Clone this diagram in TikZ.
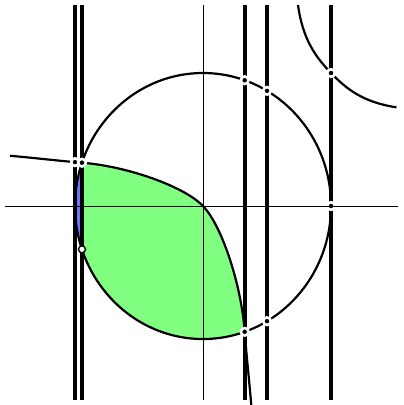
\documentclass[tikz,border=0pt]{standalone}
\usetikzlibrary{calc}
\tikzset{
  axisline/.style={line width=0.8pt},
  curveline/.style={line width=2.2pt},
  wall/.style={line width=3.8pt},
  crossdot/.style={circle,fill=black,draw=white,line width=2.6pt,minimum size=7.6pt,inner sep=0pt},
  opendot/.style={circle,fill=white,draw=black,line width=1.4pt,minimum size=7pt,inner sep=0pt},
  plaindot/.style={circle,fill=black,minimum size=4.6pt,inner sep=0pt},
}
\begin{document}
\begin{tikzpicture}[x=128pt,y=133pt]
  \useasboundingbox (-1.586,-1.496) rectangle (1.5625,1.549);
  % key points
  \coordinate (o) at (0,0);
  \coordinate (p1) at (-0.9455,0.3256);
  \coordinate (p2) at (0.3256,-0.9455);
  \coordinate (q1) at (-0.9455,-0.3256);

  % regions
  \fill[green!50] (p1) .. controls (-0.6,0.30) and (-0.15,0.15) .. (o)
    .. controls (0.15,-0.15) and (0.30,-0.6) .. (p2)
    arc[start angle=-71,end angle=-161,radius=1] -- cycle;
  \fill[blue!55] (p1) arc[start angle=161,end angle=199,radius=1] -- cycle;

  % circle and curves
  \draw[curveline] (o) circle[radius=1];
  \draw[curveline] (-1.508,0.378) .. controls (-1.3,0.36) and (-1.1,0.337) .. (p1)
    .. controls (-0.6,0.30) and (-0.15,0.15) .. (o)
    .. controls (0.15,-0.15) and (0.30,-0.6) .. (p2)
    .. controls (0.337,-1.1) and (0.36,-1.3) .. (0.378,-1.508);
  \draw[curveline] (0.742,1.511) .. controls (0.78,1.25) and (0.88,1.12) .. (1,1)
    .. controls (1.12,0.88) and (1.25,0.78) .. (1.511,0.742);

  % vertical walls
  \foreach \xv in {-1,-0.9455,0.3256,0.5,1}
    \draw[wall] (\xv,-1.459) -- (\xv,1.511);

  % marked points
  \node[crossdot] at (-1,0.330) {};
  \node[crossdot] at (p1) {};
  \node[crossdot] at (p2) {};
  \node[crossdot] at (0.3256,0.9455) {};
  \node[crossdot] at (0.5,0.866) {};
  \node[crossdot] at (0.5,-0.866) {};
  \node[crossdot] at (1,1) {};
  \node[crossdot] at (1,0) {};
  \node[opendot] at (q1) {};

  % axes
  \draw[axisline] (-1.547,0) -- (1.523,0);
  \draw[axisline] (0,-1.459) -- (0,1.511);
  \node[plaindot] at (-1,0) {};
\end{tikzpicture}
\end{document}
